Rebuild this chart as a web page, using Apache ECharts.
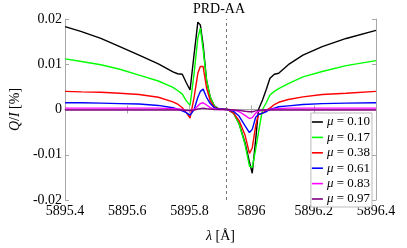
<!DOCTYPE html>
<html>
<head>
<meta charset="utf-8">
<script src="https://cdn.jsdelivr.net/npm/echarts@6/dist/echarts.min.js"></script>
<style>html,body{margin:0;padding:0;background:#fff}#c{width:407px;height:248px}</style>
</head>
<body>
<div id="c"></div>
<script>
// Wavelength grid [Å]
var lambda = [5895.400,5895.453,5895.515,5895.576,5895.638,5895.700,5895.747,5895.762,5895.777,5895.790,
              5895.802,5895.815,5895.827,5895.835,5895.844,5895.855,5895.867,5895.880,5895.895,5895.922,
              5895.942,5895.960,5895.979,5895.993,5896.002,5896.013,5896.022,5896.035,5896.047,5896.059,
              5896.073,5896.087,5896.118,5896.165,5896.227,5896.304,5896.400];
// Q/I [%] for each mu
var q010 = [0.0183,0.0172,0.0157,0.0139,0.0120,0.0101,0.0083,0.0079,0.0078,0.0059,
            0.0043,0.0122,0.0193,0.0187,0.0143,0.0065,0.0027,0.0008,0.0001,0.0000,
           -0.0008,-0.0032,-0.0074,-0.0116,-0.0141,-0.0067,0.0000,0.0021,0.0044,0.0069,
            0.0078,0.0080,0.0099,0.0120,0.0139,0.0157,0.0175];
var q017 = [0.0112,0.0106,0.0099,0.0089,0.0076,0.0063,0.0049,0.0042,0.0034,0.0019,
            0.0009,0.0080,0.0158,0.0180,0.0133,0.0065,0.0027,0.0008,0.0001,0.0000,
           -0.0008,-0.0032,-0.0078,-0.0125,-0.0128,-0.0088,-0.0051,0.0000,0.0015,0.0032,
            0.0040,0.0046,0.0057,0.0072,0.0084,0.0097,0.0108];
var q038 = [0.0040,0.0039,0.0038,0.0036,0.0033,0.0027,0.0017,0.0012,0.0004,-0.0007,
           -0.0019,0.0027,0.0080,0.0095,0.0095,0.0048,0.0019,0.0006,0.0001,0.0000,
           -0.0008,-0.0025,-0.0057,-0.0097,-0.0085,-0.0036,-0.0011,-0.0008,-0.0002,0.0003,
            0.0011,0.0016,0.0022,0.0028,0.0033,0.0036,0.0040];
var q061 = [0.0015,0.0015,0.0014,0.0013,0.0012,0.0009,0.0004,0.0001,-0.0003,-0.0007,
           -0.0013,0.0000,0.0027,0.0040,0.0045,0.0027,0.0013,0.0004,0.0001,0.0000,
           -0.0004,-0.0015,-0.0036,-0.0051,-0.0044,-0.0017,-0.0011,-0.0008,-0.0005,0.0000,
            0.0003,0.0006,0.0008,0.0011,0.0013,0.0014,0.0015];
var q083 = [0.0003,0.0003,0.0003,0.0003,0.0003,0.0003,0.0002,0.0001,0.0000,-0.0002,
           -0.0003,0.0000,0.0008,0.0013,0.0015,0.0010,0.0004,0.0001,0.0000,0.0000,
           -0.0001,-0.0005,-0.0013,-0.0020,-0.0018,-0.0008,-0.0004,-0.0002,-0.0001,0.0000,
            0.0001,0.0002,0.0003,0.0003,0.0003,0.0003,0.0003];
var q097 = [-0.0001,-0.0001,-0.0001,-0.0001,-0.0001,-0.0001,-0.0001,-0.0001,-0.0001,-0.0002,
           -0.0002,-0.0001,0.0001,0.0002,0.0003,0.0002,0.0001,0.0000,0.0000,0.0000,
           -0.0001,-0.0002,-0.0004,-0.0005,-0.0005,-0.0003,-0.0002,-0.0001,-0.0001,-0.0001,
           -0.0001,-0.0001,-0.0001,-0.0001,-0.0001,-0.0001,-0.0001];
var muLabels = ['0.10','0.17','0.38','0.61','0.83','0.97'];
var lineCenter = 5895.924;
var xTicks = [5895.4,5895.6,5895.8,5896.0,5896.2,5896.4];
var yTicks = [-0.02,-0.01,0,0.01,0.02];

var seriesVals = [q010,q017,q038,q061,q083,q097];
var colors = ['#000000','#00ff00','#ff0000','#0000ff','#ff00ff','#800080'];
var serif = 'Liberation Serif';
var axisCol = '#a8a8a8';

var series = seriesVals.map(function(v,i){
  var s = {
    name: muLabels[i], type:'line', symbol:'none', animation:false,
    data: lambda.map(function(x,j){return [x,v[j]];}),
    lineStyle:{color:colors[i],width:1.4}, itemStyle:{color:colors[i]}
  };
  if(i===0){
    s.markLine = {silent:true, symbol:'none', animation:false, label:{show:false},
      lineStyle:{color:'#555',type:[3,3],width:0.8},
      data:[{xAxis:lineCenter}]};
  }
  return s;
});

var chart = echarts.init(document.getElementById('c'));
chart.setOption({
  backgroundColor:'#fff',
  animation:false,
  title:{text:'PRD-AA', left:214, top:-3, textAlign:'center',
    textStyle:{fontFamily:serif,fontSize:14,fontWeight:'normal',color:'#000'}},
  grid:{left:53,right:31,top:19,bottom:39},
  legend:{orient:'vertical', right:35, bottom:41, data:muLabels,
    icon:'rect', itemWidth:11, itemHeight:1.6, itemGap:1.4,
    backgroundColor:'#fff', borderColor:'#bbb', borderWidth:1, borderRadius:0,
    padding:[2,2,1,1],
    formatter:function(n){return '{i|μ} = '+n;},
    textStyle:{fontFamily:serif,fontSize:13,color:'#000',lineHeight:14,padding:[0,0,0,-1],
      rich:{i:{fontFamily:serif,fontStyle:'italic',fontSize:13,lineHeight:14}}}},
  xAxis:[{type:'value',min:5895.4,max:5896.4,interval:0.2,
      name:'{i|λ} [Å]',nameLocation:'middle',nameGap:29,
      nameTextStyle:{fontFamily:serif,fontSize:14,color:'#000',rich:{i:{fontFamily:serif,fontStyle:'italic',fontSize:14}}},
      axisLine:{show:true,lineStyle:{color:axisCol}},
      axisTick:{show:true,inside:true,length:4,lineStyle:{color:axisCol}},
      axisLabel:{fontFamily:serif,fontSize:14,color:'#000',margin:4,
        formatter:function(v){return String(+v.toFixed(1));}},
      splitLine:{show:false}},
    {type:'value',position:'top',min:5895.4,max:5896.4,interval:0.2,
      axisLine:{show:true,lineStyle:{color:axisCol}},
      axisTick:{show:true,inside:true,length:4,lineStyle:{color:axisCol}},
      axisLabel:{show:false},splitLine:{show:false}}],
  yAxis:[{type:'value',min:-0.02,max:0.02,interval:0.01,
      name:'{i|Q}/{i|I} [%]',nameLocation:'middle',nameGap:40,
      nameTextStyle:{fontFamily:serif,fontSize:14,color:'#000',rich:{i:{fontFamily:serif,fontStyle:'italic',fontSize:14}}},
      axisLine:{show:true,lineStyle:{color:axisCol}},
      axisTick:{show:true,inside:true,length:4,lineStyle:{color:axisCol}},
      axisLabel:{fontFamily:serif,fontSize:14,color:'#000',margin:3,
        formatter:function(v){var r=Math.round(v*100)/100; return r===0?'0':r.toFixed(2);}},
      splitLine:{show:false}},
    {type:'value',position:'right',min:-0.02,max:0.02,interval:0.01,
      axisLine:{show:true,lineStyle:{color:axisCol}},
      axisTick:{show:true,inside:true,length:4,lineStyle:{color:axisCol}},
      axisLabel:{show:false},splitLine:{show:false}}],
  series: series
});
</script>
</body>
</html>
